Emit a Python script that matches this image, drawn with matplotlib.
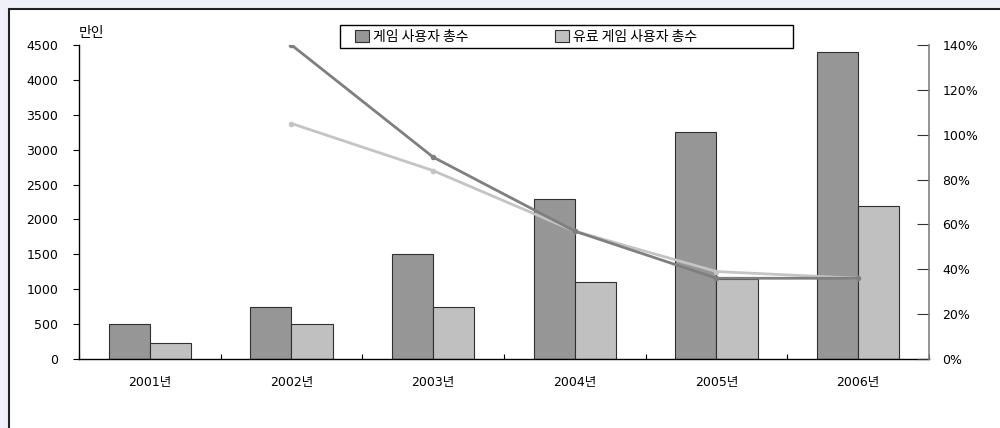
import matplotlib
matplotlib.use("Agg")
import matplotlib.pyplot as plt
from matplotlib.patches import Rectangle
from matplotlib.ticker import FixedLocator, FuncFormatter
import numpy as np

plt.rcParams['font.family'] = ['DejaVu Sans', 'Noto Sans CJK KR']

# ---- data ----
years = ['2001년', '2002년', '2003년', '2004년', '2005년', '2006년']
total_users = [500, 750, 1500, 2300, 3250, 4400]        # 만인
paid_users = [230, 500, 750, 1100, 1150, 2200]          # 만인
total_growth = [None, 140, 90, 57, 36, 36]              # %
paid_growth = [None, 105, 84, 57, 39, 36]               # %
left_ticks = [0, 500, 1000, 1500, 2000, 2500, 3000, 3500, 4000, 4500]
right_ticks = [0, 20, 40, 60, 80, 100, 120, 140]
series_names = ['게임 사용자 총수', '유료 게임 사용자 총수']
unit_label = '만인'

dark_bar = '#969696'
light_bar = '#C0C0C0'
dark_line = '#7F7F7F'
light_line = '#C4C4C4'

fig = plt.figure(figsize=(10, 4.28), dpi=100)
fig.patch.set_facecolor('#F0F0FA')
frame = Rectangle((0.0085, -0.05), 1.05, 0.9801 + 0.05, transform=fig.transFigure,
                  facecolor='white', edgecolor='#222222', linewidth=1.5, zorder=-10)
fig.patches.append(frame)

ax = fig.add_axes([0.079, 0.1612, 0.85, 0.7336])
ax.set_facecolor('none')
x = np.arange(len(years))
w = 0.29
b1 = ax.bar(x - w / 2, total_users, width=w, color=dark_bar, edgecolor='#303030',
            linewidth=0.8, label=series_names[0])
b2 = ax.bar(x + w / 2, paid_users, width=w, color=light_bar, edgecolor='#303030',
            linewidth=0.8, label=series_names[1])
ax.set_xlim(-0.5, len(years) - 0.5)
ax.set_ylim(0, 4500)
ax.set_yticks(left_ticks)
ax.tick_params(axis='y', direction='out', length=4.3, width=0.8, pad=10.5,
               labelsize=9, colors='black')
ax.set_xticks(x)
ax.set_xticklabels(years)
ax.tick_params(axis='x', which='major', length=0, pad=12, labelsize=9)
ax.xaxis.set_minor_locator(FixedLocator(np.arange(-0.5, len(years), 1.0)))
ax.tick_params(axis='x', which='minor', direction='in', length=3.6, width=0.8)
for s in ['top', 'right']:
    ax.spines[s].set_visible(False)
for s in ['left', 'bottom']:
    ax.spines[s].set_linewidth(1.0)
    ax.spines[s].set_color('black')

ax.text(0.0, 1.038, unit_label, transform=ax.transAxes, ha='left', va='center',
        fontsize=10, family=['Noto Sans CJK KR', 'DejaVu Sans'])

ax2 = ax.twinx()
ax2.set_ylim(0, 140)
xs1 = [xi for xi, v in zip(x, total_growth) if v is not None]
ys1 = [v for v in total_growth if v is not None]
xs2 = [xi for xi, v in zip(x, paid_growth) if v is not None]
ys2 = [v for v in paid_growth if v is not None]
ax2.plot(xs2, ys2, color=light_line, lw=2, marker='o', markersize=3)
ax2.plot(xs1, ys1, color=dark_line, lw=2, marker='o', markersize=3)
ax2.set_yticks(right_ticks)
ax2.yaxis.set_major_formatter(FuncFormatter(lambda v, p: f'{int(v)}%'))
ax2.tick_params(axis='y', direction='in', length=8.6, width=0.8, pad=9.5,
                labelsize=9, color='#333333', labelcolor='black')
for s in ['top', 'left', 'bottom']:
    ax2.spines[s].set_visible(False)
ax2.spines['right'].set_color('#808080')
ax2.spines['right'].set_linewidth(1.2)

# legend box (frame drawn separately so horizontal padding can differ from vertical)
box_l, box_r, box_t, box_b = (340 - 79) / 850, (793 - 79) / 850, (359 - 25) / 314, (359 - 48) / 314
legbox = Rectangle((box_l, box_b), box_r - box_l, box_t - box_b, transform=ax.transAxes,
                   facecolor='white', edgecolor='black', linewidth=1.0, clip_on=False,
                   zorder=19)
ax.add_patch(legbox)
leg = ax.legend(handles=[b1, b2], labels=series_names, loc='center left',
                bbox_to_anchor=((355 - 79) / 850, (box_t + box_b) / 2),
                ncol=2, frameon=False,
                handlelength=1.0, handleheight=1.0, handletextpad=0.3,
                borderpad=0.0, borderaxespad=0.0, columnspacing=6.2,
                prop={'family': ['Noto Sans CJK KR', 'DejaVu Sans'], 'size': 10})
leg.set_zorder(20)

fig.savefig('out.png', dpi=100)
